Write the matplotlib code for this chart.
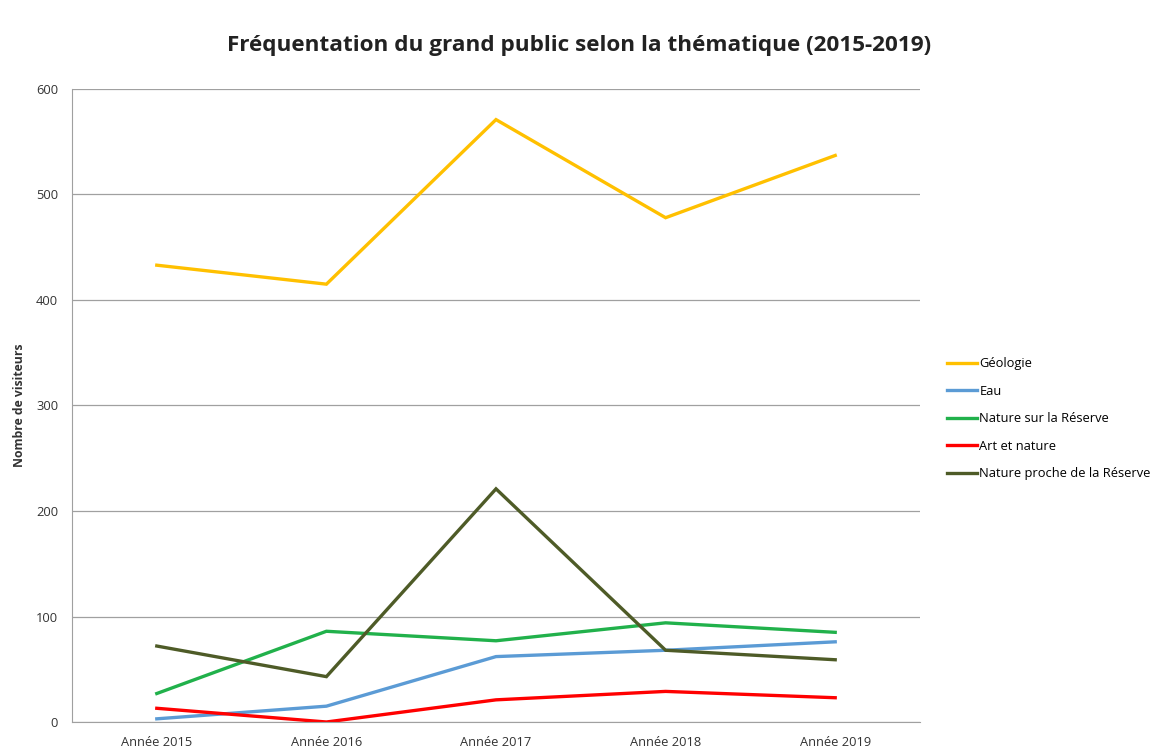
import matplotlib
matplotlib.use("Agg")
import matplotlib.pyplot as plt

categories = ["Année 2015", "Année 2016", "Année 2017", "Année 2018", "Année 2019"]
geologie = [433, 415, 571, 478, 537]
eau = [3, 15, 62, 68, 76]
nature_reserve = [27, 86, 77, 94, 85]
art_nature = [13, 0, 21, 29, 23]
nature_proche = [72, 43, 221, 68, 59]
series_names = ["Géologie", "Eau", "Nature sur la Réserve", "Art et nature", "Nature proche de la Réserve"]
colors = ["#FFC000", "#5B9BD5", "#21B14B", "#FF0000", "#4E5B27"]

plt.rcParams['font.family'] = ['Open Sans', 'DejaVu Sans']

fig = plt.figure(figsize=(11.59, 7.53), dpi=100)
ax = fig.add_axes([72/1159, 1-722/753, (920-72)/1159, (722-89)/753])

x = list(range(len(categories)))
for vals, name, c in zip([geologie, eau, nature_reserve, art_nature, nature_proche], series_names, colors):
    ax.plot(x, vals, color=c, lw=2.4, label=name, solid_joinstyle='miter')

ax.set_xlim(-0.5, 4.5)
ax.set_ylim(0, 600)
ax.set_yticks([0, 100, 200, 300, 400, 500, 600])
ax.set_xticks(x)
ax.set_xticklabels(categories, fontsize=9.3, color="#333333")
ax.tick_params(axis='y', labelsize=9.3, colors="#333333", length=0, pad=10)
ax.tick_params(axis='x', length=0, pad=10)
ax.grid(axis='y', color="#A0A0A0", lw=0.9)
ax.set_axisbelow(True)
for s in ['top', 'right']:
    ax.spines[s].set_visible(False)
ax.spines['left'].set_color("#A0A0A0")
ax.spines['bottom'].set_color("#A0A0A0")
ax.set_ylabel("Nombre de visiteurs", fontsize=8.8, fontweight='bold', color="#333333", labelpad=7)

fig.text(0.5, 1-45/753, "Fréquentation du grand public selon la thématique (2015-2019)",
         ha='center', va='center', fontsize=16.2, fontweight='bold', color="#222222")

ax.legend(loc='upper left', bbox_to_anchor=(942/1159, 1-352/753), bbox_transform=fig.transFigure,
          frameon=False, fontsize=9.3, handlelength=2.3, handletextpad=0.2, labelspacing=1.12,
          borderaxespad=0)

fig.savefig("out.png", dpi=100)
